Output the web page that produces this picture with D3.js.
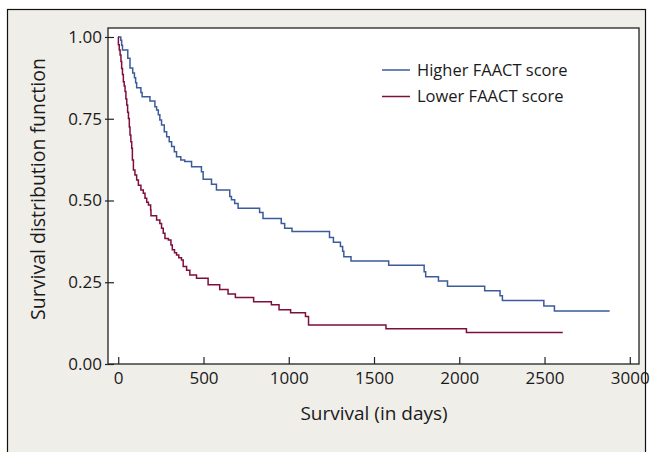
<!DOCTYPE html>
<html>
<head>
<meta charset="utf-8">
<script src="https://cdn.jsdelivr.net/npm/d3@7"></script>
<style>
  body { margin: 0; background: #fff; }
  text { font-family: "Open Sans", "Noto Sans", sans-serif; fill: #1a1a1a; }
</style>
</head>
<body>
<div class="canvas"></div>
<script>
// data
const xTicks = [0, 500, 1000, 1500, 2000, 2500, 3000];
const yTicks = [0, 0.25, 0.5, 0.75, 1];
const seriesNames = ['Higher FAACT score', 'Lower FAACT score'];

const higherDays = [0, 15, 20, 25, 56, 69, 85, 95, 102, 108, 133, 140, 186, 215, 225, 235, 244, 254, 270, 284,
    299, 313, 329, 342, 367, 390, 430, 488, 498, 547, 576, 654, 664, 683, 703, 829, 849, 956, 976, 1019,
    1239, 1262, 1303, 1316, 1323, 1365, 1586, 1794, 1803, 1878, 1931, 2149, 2239, 2253, 2496, 2558, 2882];
const higherSurv = [1, 0.99, 0.975, 0.96, 0.935, 0.905, 0.89, 0.875, 0.86, 0.845, 0.83, 0.817, 0.804, 0.787, 0.777, 0.762, 0.746, 0.731, 0.71, 0.695,
    0.68, 0.665, 0.649, 0.634, 0.624, 0.619, 0.603, 0.588, 0.565, 0.55, 0.532, 0.512, 0.502, 0.491, 0.476, 0.463, 0.445, 0.43, 0.415, 0.405,
    0.387, 0.372, 0.359, 0.345, 0.328, 0.315, 0.302, 0.282, 0.267, 0.254, 0.238, 0.224, 0.209, 0.194, 0.177, 0.162, 0.162];

const lowerDays = [0, 1, 6, 11, 16, 20, 25, 30, 35, 40, 45, 50, 55, 60, 65, 69, 74, 79, 83, 89,
    98, 108, 118, 133, 147, 157, 167, 177, 190, 192, 225, 244, 254, 264, 274, 294, 309, 317, 330, 342,
    355, 371, 381, 401, 420, 459, 527, 595, 644, 687, 794, 898, 943, 1011, 1098, 1116, 1570, 2042, 2607];
const lowerSurv = [1, 0.976, 0.96, 0.945, 0.925, 0.904, 0.885, 0.863, 0.85, 0.833, 0.81, 0.792, 0.77, 0.751, 0.725, 0.7, 0.68, 0.66, 0.624, 0.593,
    0.578, 0.563, 0.547, 0.532, 0.522, 0.507, 0.495, 0.486, 0.471, 0.453, 0.44, 0.43, 0.415, 0.4, 0.384, 0.379, 0.364, 0.349, 0.34, 0.333,
    0.325, 0.318, 0.298, 0.287, 0.272, 0.262, 0.242, 0.228, 0.214, 0.203, 0.19, 0.181, 0.166, 0.157, 0.145, 0.119, 0.108, 0.096, 0.096];

const colors = ['#3b5b9b', '#7e0e3c'];

const width = 655;
const height = 452;
const margin = { top: 28, right: 16, bottom: 88, left: 108 };
const graphWidth = width - margin.left - margin.right;
const graphHeight = height - margin.top - margin.bottom;

const svg = d3.select('.canvas')
    .append('svg')
    .attr('width', width)
    .attr('height', height);

// beige panel with frame
svg.append('rect')
    .attr('x', 7.5)
    .attr('y', 9.5)
    .attr('width', 638)
    .attr('height', 450)
    .attr('fill', '#f0eee9')
    .attr('stroke', '#111')
    .attr('stroke-width', 1.2);

const graph = svg.append('g')
    .attr('transform', `translate(${margin.left},${margin.top})`);

graph.append('rect')
    .attr('width', graphWidth)
    .attr('height', graphHeight)
    .attr('fill', '#fff');

//scales
const x = d3.scaleLinear().domain([-60, 3054]).range([0, graphWidth]);
const y = d3.scaleLinear().domain([0, 1.0275]).range([graphHeight, 0]);

//axes
const xAxis = d3.axisBottom(x)
    .tickValues(xTicks)
    .tickFormat(d3.format('d'))
    .tickSize(-7)
    .tickPadding(8);

const yAxis = d3.axisLeft(y)
    .tickValues(yTicks)
    .tickFormat(d3.format('.2f'))
    .tickSize(-6)
    .tickPadding(6);

const xAxisGroup = graph.append('g')
    .attr('transform', `translate(0,${graphHeight})`)
    .call(xAxis);

const yAxisGroup = graph.append('g')
    .call(yAxis);

[xAxisGroup, yAxisGroup].forEach(g => {
    g.select('.domain').remove();
    g.selectAll('line').attr('stroke', '#222').attr('stroke-width', 1.2);
    g.selectAll('text').style('font-size', '17px').attr('fill', '#1a1a1a');
});
// y ticks poke a little outside the frame
yAxisGroup.selectAll('line').attr('x1', -3);

//step line generator
const line = d3.line()
    .x(d => x(d[0]))
    .y(d => y(d[1]))
    .curve(d3.curveStepAfter);

const series = [
    d3.zip(higherDays, higherSurv),
    d3.zip(lowerDays, lowerSurv)
];

graph.selectAll('path.km')
    .data(series)
    .enter()
    .append('path')
    .attr('class', 'km')
    .attr('fill', 'none')
    .attr('stroke', (d, i) => colors[i])
    .attr('stroke-width', 1.5)
    .attr('d', line);

// frame of the plot area
graph.append('rect')
    .attr('width', graphWidth)
    .attr('height', graphHeight)
    .attr('fill', 'none')
    .attr('stroke', '#222')
    .attr('stroke-width', 1.3);

// legend
const legend = graph.selectAll('g.legend')
    .data(seriesNames)
    .enter()
    .append('g')
    .attr('class', 'legend')
    .attr('transform', (d, i) => `translate(${382 - margin.left},${70 - margin.top + i * 26.5})`);

legend.append('line')
    .attr('x1', 0)
    .attr('x2', 28)
    .attr('stroke', (d, i) => colors[i])
    .attr('stroke-width', 1.5);

legend.append('text')
    .attr('x', 35)
    .attr('dy', '0.35em')
    .style('font-size', '16.5px')
    .text(d => d);

// axis titles
svg.append('text')
    .attr('x', margin.left + x(1500))
    .attr('y', 420)
    .attr('text-anchor', 'middle')
    .style('font-size', '19px')
    .text('Survival (in days)');

svg.append('text')
    .attr('transform', `translate(45,${margin.top + graphHeight / 2 - 7}) rotate(-90)`)
    .attr('text-anchor', 'middle')
    .style('font-size', '19.5px')
    .text('Survival distribution function');
</script>
</body>
</html>
